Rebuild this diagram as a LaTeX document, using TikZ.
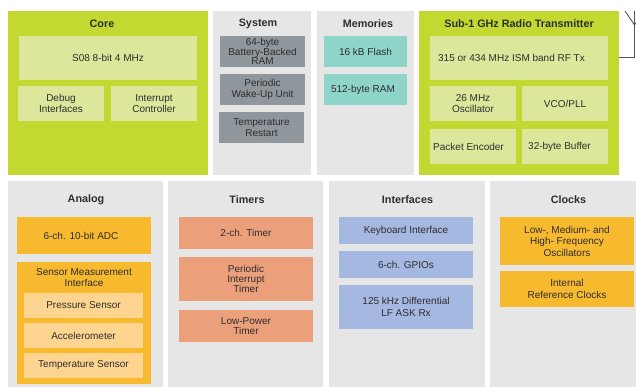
\documentclass[tikz,border=0pt]{standalone}
\usepackage{fontspec}
\setmainfont{Liberation Sans}
\definecolor{lime}{HTML}{C3D830}
\definecolor{limel}{HTML}{DDE79B}
\definecolor{panelg}{HTML}{E6E6E6}
\definecolor{sysg}{HTML}{8F969C}
\definecolor{teal}{HTML}{8ED4C8}
\definecolor{orng}{HTML}{F7B92E}
\definecolor{orngl}{HTML}{FDD590}
\definecolor{salm}{HTML}{EBA07B}
\definecolor{blu}{HTML}{A5B8E1}
\definecolor{txtc}{HTML}{2E2E2E}
\definecolor{antc}{HTML}{555555}
\tikzset{
  blk/.style={anchor=north west, inner sep=0pt, outer sep=0pt, draw=none, align=center,
    text=txtc, font=\fontsize{10}{10.5}\selectfont},
  ttl/.style={inner sep=0pt, text=txtc, font=\fontsize{10.8}{12}\selectfont\bfseries},
  lbl/.style={inner sep=0pt, align=center, text=txtc, font=\fontsize{10}{10.5}\selectfont},
  ant/.style={draw=antc, line width=0.9pt}
}
\begin{document}
\begin{tikzpicture}[x=1pt,y=-1pt]
\useasboundingbox[fill=white] (0,0) rectangle (636,387);
% ---------- top row ----------
\node[blk, fill=lime, minimum width=200pt, minimum height=164pt] (core) at (8,11) {};
\node[ttl] (coret) at (102,23.5) {Core};
\node[blk, fill=limel, minimum width=178pt, minimum height=44pt] (s08) at (19,36) {S08 8-bit 4 MHz};
\node[blk, fill=limel, minimum width=86pt, minimum height=35pt] (dbg) at (18,86) {Debug\\Interfaces};
\node[blk, fill=limel, minimum width=86pt, minimum height=35pt] (irq) at (111,86) {Interrupt\\Controller};

\node[blk, fill=panelg, minimum width=98pt, minimum height=164pt] (sys) at (213,11) {};
\node[ttl] (syst) at (258,23.5) {System};
\node[blk, fill=sysg, minimum width=85pt, minimum height=31pt, font=\fontsize{10}{9.3}\selectfont] (bbram) at (220,36) {64-byte\\Battery-Backed\\RAM};
\node[blk, fill=sysg, minimum width=85pt, minimum height=31pt, font=\fontsize{10}{11}\selectfont] (wake) at (220,74) {Periodic\\Wake-Up Unit};
\node[blk, fill=sysg, minimum width=85pt, minimum height=31pt, font=\fontsize{10}{11.5}\selectfont] (trst) at (219,112) {Temperature\\Restart};

\node[blk, fill=panelg, minimum width=97pt, minimum height=164pt] (mem) at (317,11) {};
\node[ttl] (memt) at (368,23.5) {Memories};
\node[blk, fill=teal, minimum width=83pt, minimum height=31pt] (flash) at (324,36) {16 kB Flash};
\node[blk, fill=teal, minimum width=83pt, minimum height=31pt] (ram) at (324,74) {512-byte RAM\hspace{5pt}};

\node[blk, fill=lime, minimum width=200pt, minimum height=164pt] (radio) at (419,11) {};
\node[ttl] (radiot) at (519,23.5) {Sub-1 GHz Radio Transmitter};
\node[blk, fill=limel, minimum width=178pt, minimum height=44pt] (rftx) at (430,36) {315 or 434 MHz ISM band RF Tx\hspace{15pt}};
\node[blk, fill=limel, minimum width=86pt, minimum height=35pt] (osc) at (430,86) {26 MHz\\Oscillator};
\node[blk, fill=limel, minimum width=86pt, minimum height=35pt] (vco) at (522,86) {VCO/PLL};
\node[blk, fill=limel, minimum width=86pt, minimum height=35pt] (penc) at (430,129) {Packet Encoder\hspace{9pt}};
\node[blk, fill=limel, minimum width=86pt, minimum height=35pt] (buf) at (522,129) {32-byte Buffer\hspace{11pt}};

% antenna
\coordinate (a1) at (634.5,57);
\coordinate (a2) at (634.5,25);
\coordinate (a3) at (634.5,11);
\coordinate (a4) at (625,11);
\coordinate (a5) at (644,11);
\draw[ant] (radio.east |- a1) -- (a1) -- (a3);
\draw[ant] (a4) -- (a2) -- (a5);

% ---------- bottom row ----------
\node[blk, fill=panelg, minimum width=155pt, minimum height=210pt] (ana) at (8,181) {};
\node[ttl] (anat) at (86,199.5) {Analog};
\node[blk, fill=orng, minimum width=134pt, minimum height=37pt] (adc) at (17,217) {6-ch. 10-bit ADC\hspace{6pt}};
\node[blk, fill=orng, minimum width=134pt, minimum height=122pt] (smi) at (17,262) {};
\node[lbl, font=\fontsize{10}{11.5}\selectfont] (smit) at (84,277.5) {Sensor Measurement\\Interface};
\node[blk, fill=orngl, minimum width=119pt, minimum height=25pt] (pres) at (24,293) {Pressure Sensor};
\node[blk, fill=orngl, minimum width=119pt, minimum height=25pt] (accel) at (24,323) {Accelerometer};
\node[blk, fill=orngl, minimum width=119pt, minimum height=25pt] (tsen) at (24,353) {Temperature Sensor};

\node[blk, fill=panelg, minimum width=155pt, minimum height=210pt] (tim) at (168,181) {};
\node[ttl] (timt) at (247,199.5) {Timers};
\node[blk, fill=salm, minimum width=134pt, minimum height=32pt] (t2ch) at (179,217) {2-ch. Timer};
\node[blk, fill=salm, minimum width=134pt, minimum height=44pt, font=\fontsize{10}{10}\selectfont] (pit) at (179,257) {Periodic\\Interrupt\\Timer};
\node[blk, fill=salm, minimum width=134pt, minimum height=32pt] (lpt) at (179,310) {Low-Power\\Timer};

\node[blk, fill=panelg, minimum width=156pt, minimum height=210pt] (intf) at (329,181) {};
\node[ttl] (intft) at (407.5,199.5) {Interfaces};
\node[blk, fill=blu, minimum width=134pt, minimum height=27pt] (kbi) at (339,217) {Keyboard Interface};
\node[blk, fill=blu, minimum width=134pt, minimum height=27pt] (gpio) at (339,251) {6-ch. GPIOs};
\node[blk, fill=blu, minimum width=134pt, minimum height=44pt, font=\fontsize{10}{11.5}\selectfont] (lf) at (339,285) {125 kHz Differential\\LF ASK Rx};

\node[blk, fill=panelg, minimum width=150pt, minimum height=210pt] (clk) at (490,181) {};
\node[ttl] (clkt) at (568.5,199.5) {Clocks};
\node[blk, fill=orng, minimum width=134pt, minimum height=48pt, font=\fontsize{10}{11.5}\selectfont] (osci) at (500,217) {Low-, Medium- and\\High- Frequency\\Oscillators};
\node[blk, fill=orng, minimum width=134pt, minimum height=36pt, font=\fontsize{10}{11.5}\selectfont] (irc) at (500,271) {Internal\\Reference Clocks};
\end{tikzpicture}
\end{document}
